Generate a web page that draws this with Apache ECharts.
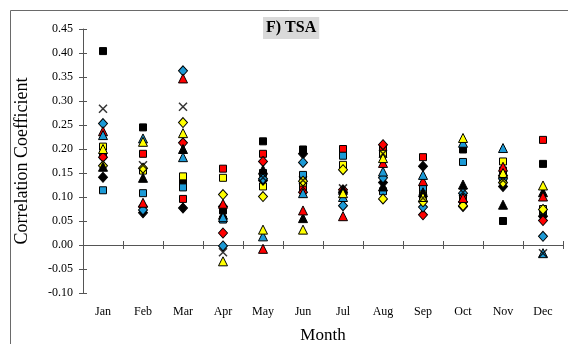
<!DOCTYPE html>
<html>
<head>
<meta charset="utf-8">
<script src="https://cdn.jsdelivr.net/npm/echarts@6/dist/echarts.min.js"></script>
<style>
html,body{margin:0;padding:0;background:#fff;}
#chart{width:568px;height:344px;}
</style>
</head>
<body>
<div id="chart"></div>
<script>
const months = ['Jan','Feb','Mar','Apr','May','Jun','Jul','Aug','Sep','Oct','Nov','Dec'];
const yTicks = [-0.10,-0.05,0.00,0.05,0.10,0.15,0.20,0.25,0.30,0.35,0.40,0.45];

const blackSquare   = [0.404,0.245,0.132,0.072,0.216,0.199,0.195,0.200,0.100,0.199,0.050,0.169];
const redSquare     = [0.187,0.190,0.096,0.159,0.190,0.120,0.200,0.200,0.183,0.100,0.155,0.219];
const blueSquare    = [0.114,0.108,0.120,0.053,0.150,0.146,0.186,0.112,0.119,0.173,0.140,0.070];
const yellowSquare  = [0.205,0.155,0.143,0.140,0.122,0.130,0.167,0.190,0.105,0.090,0.174,0.075];
const blackDiamond  = [0.141,0.067,0.077,0.080,0.135,0.190,0.110,0.130,0.164,0.080,0.122,0.060];
const redDiamond    = [0.183,0.080,0.213,0.025,0.174,0.110,0.115,0.209,0.063,0.090,0.145,0.051];
const blueDiamond   = [0.253,0.073,0.363,-0.002,0.138,0.172,0.082,0.140,0.079,0.108,0.138,0.018];
const yellowDiamond = [0.165,0.160,0.255,0.105,0.101,0.133,0.157,0.096,0.090,0.082,0.130,0.074];
const blackTriangle = [0.163,0.140,0.200,0.063,0.157,0.056,0.115,0.122,0.110,0.126,0.084,0.110];
const redTriangle   = [0.237,0.088,0.347,0.086,-0.008,0.072,0.060,0.171,0.133,0.098,0.163,0.101];
const blueTriangle  = [0.229,0.222,0.183,0.058,0.018,0.108,0.100,0.153,0.146,0.213,0.202,-0.017];
const yellowTriangle= [0.200,0.215,0.233,-0.034,0.032,0.032,0.108,0.181,0.100,0.223,0.150,0.124];
const crossSeries   = [0.284,0.166,0.288,-0.015,0.140,0.135,0.118,0.190,0.098,0.110,0.135,-0.017];

const BLACK='#000000', RED='#ff0000', BLUE='#1c9ad6', YELLOW='#ffff00';
const FONT='"Liberation Serif","Times New Roman",serif';
const AXIS='#555555';

function sc(name, data, symbol, color, size){
  return {
    name:name, type:'scatter', xAxisIndex:0, yAxisIndex:0,
    data:data, symbol:symbol, symbolSize:size,
    itemStyle:{color:color, borderColor:'#000', borderWidth:1, opacity:1},
    emphasis:{disabled:true}, animation:false
  };
}
const CROSS='path://M0,0L10,10M10,0L0,10';
const series = [
  sc('blackSquare', blackSquare,'rect',BLACK,7),
  sc('redSquare', redSquare,'rect',RED,7),
  sc('blueSquare', blueSquare,'rect',BLUE,7),
  sc('yellowSquare', yellowSquare,'rect',YELLOW,7),
  sc('blackDiamond', blackDiamond,'diamond',BLACK,[9,10]),
  sc('redDiamond', redDiamond,'diamond',RED,[9,10]),
  sc('blueDiamond', blueDiamond,'diamond',BLUE,[9,10]),
  sc('yellowDiamond', yellowDiamond,'diamond',YELLOW,[9,10]),
  sc('blackTriangle', blackTriangle,'triangle',BLACK,[9,9]),
  sc('redTriangle', redTriangle,'triangle',RED,[9,9]),
  sc('blueTriangle', blueTriangle,'triangle',BLUE,[9,9]),
  sc('yellowTriangle', yellowTriangle,'triangle',YELLOW,[9,9]),
  {
    name:'cross', type:'scatter', xAxisIndex:0, yAxisIndex:0,
    data:crossSeries, symbol:CROSS, symbolSize:8,
    itemStyle:{color:'transparent', borderColor:'#000', borderWidth:1.5},
    emphasis:{disabled:true}, animation:false
  }
];

const chart = echarts.init(document.getElementById('chart'), null, {renderer:'canvas'});
chart.setOption({
  backgroundColor:'#ffffff',
  animation:false,
  title:{
    text:'F) TSA', left:263, top:17,
    backgroundColor:'#d9d9d9', padding:[3,3],
    textStyle:{fontFamily:FONT, fontWeight:'bold', fontSize:16, color:'#000'}
  },
  graphic:[{
    type:'rect', silent:true,
    shape:{x:10.5, y:10.5, width:800, height:600},
    style:{fill:'none', stroke:'#6a6a6a', lineWidth:1}
  }],
  grid:{left:83, right:5, top:29, bottom:51, containLabel:false, outerBoundsMode:'none'},
  xAxis:[
    {
      type:'category', data:months, position:'bottom',
      axisLine:{onZero:true, lineStyle:{color:AXIS, width:1}},
      axisTick:{show:true, inside:false, length:4, lineStyle:{color:AXIS}},
      axisLabel:{show:false}, splitLine:{show:false}
    },
    {
      type:'category', data:months, position:'bottom',
      axisLine:{onZero:true, lineStyle:{color:AXIS, width:1}},
      axisTick:{show:true, inside:true, length:4, lineStyle:{color:AXIS}},
      axisLabel:{show:false}, splitLine:{show:false}
    },
    {
      type:'category', data:months, position:'bottom',
      axisLine:{show:false, onZero:false}, axisTick:{show:false},
      axisLabel:{show:true, margin:13, fontFamily:FONT, fontSize:12, color:'#000'},
      name:'Month', nameLocation:'middle', nameGap:34,
      nameTextStyle:{fontFamily:FONT, fontSize:17, color:'#000'},
      splitLine:{show:false}
    }
  ],
  yAxis:[
    {
      type:'value', min:yTicks[0], max:yTicks[yTicks.length-1], interval:0.05,
      axisLine:{show:true, onZero:false, lineStyle:{color:AXIS, width:1}},
      axisTick:{show:true, inside:false, length:4, lineStyle:{color:AXIS}},
      axisLabel:{margin:10, fontFamily:FONT, fontSize:12, color:'#000',
        formatter:function(v){return (Math.round(v*100)/100).toFixed(2);}},
      splitLine:{show:false},
      name:'Correlation Coefficient', nameLocation:'middle', nameGap:52,
      nameTextStyle:{fontFamily:FONT, fontSize:18, color:'#000'}
    },
    {
      type:'value', min:yTicks[0], max:yTicks[yTicks.length-1], interval:0.05, position:'left',
      axisLine:{show:false, onZero:false},
      axisTick:{show:true, inside:true, length:4, lineStyle:{color:AXIS}},
      axisLabel:{show:false}, splitLine:{show:false}
    }
  ],
  series:series
});
</script>
</body>
</html>
